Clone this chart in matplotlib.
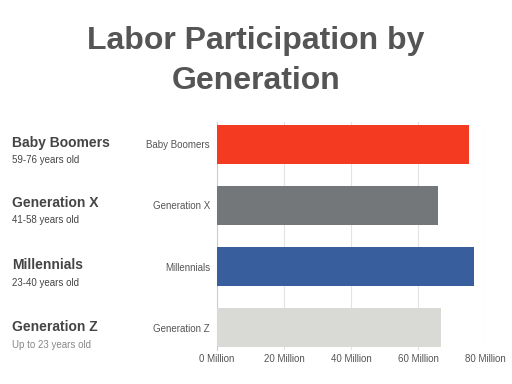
import matplotlib
matplotlib.use("Agg")
import matplotlib.pyplot as plt

categories = ["Baby Boomers", "Generation X", "Millennials", "Generation Z"]
subtitles = ["59-76 years old", "41-58 years old", "23-40 years old", "Up to 23 years old"]
values = [75.3, 66.0, 76.8, 67.0]
colors = ["#F53A22", "#747779", "#385E9D", "#D9D9D6"]
xticks = [0, 20, 40, 60, 80]
xtick_labels = ["0 Million", "20 Million", "40 Million", "60 Million", "80 Million"]

plt.rcParams['font.family'] = ['Liberation Sans', 'DejaVu Sans']

fig = plt.figure(figsize=(5.12, 3.84), dpi=100)
fig.patch.set_facecolor("white")
W, H = 512, 384
ax = fig.add_axes([217 / W, 1 - 350 / H, (485 - 217) / W, (350 - 122) / H])

y = list(range(len(categories)))
ax.barh(y, values, height=0.636, color=colors, zorder=3)
ax.set_ylim(3.36, -0.36)
ax.set_xlim(0, 80)
ax.set_yticks(y)
ax.set_yticklabels(categories, fontsize=7, color="#555555")
ax.set_xticks(xticks)
ax.set_xticklabels(xtick_labels, fontsize=7, color="#555555")
ax.tick_params(axis="x", length=0, pad=3)
ax.tick_params(axis="y", length=0, pad=5)
ax.grid(axis="x", color="#E3E3E3", linewidth=0.8, zorder=0)
for s in ["top", "right", "bottom"]:
    ax.spines[s].set_visible(False)
ax.spines["left"].set_color("#CCCCCC")
ax.spines["left"].set_linewidth(0.8)

fig.text(0.5, 1 - 41 / H, "Labor Participation by", ha="center", va="center",
         fontsize=23, fontweight="bold", color="#555555")
fig.text(0.5, 1 - 81 / H, "Generation", ha="center", va="center",
         fontsize=23, fontweight="bold", color="#555555")

title_y = [143, 203, 265, 327]
sub_y = [160, 220, 283, 345]
sub_colors = ["#444444", "#444444", "#444444", "#888888"]
for cat, sub, ty, sy, sc in zip(categories, subtitles, title_y, sub_y, sub_colors):
    fig.text(12 / W, 1 - ty / H, cat, ha="left", va="center", fontsize=10,
             fontweight="bold", color="#444444")
    fig.text(12 / W, 1 - sy / H, sub, ha="left", va="center", fontsize=7, color=sc)

fig.savefig("out.png", dpi=100)
